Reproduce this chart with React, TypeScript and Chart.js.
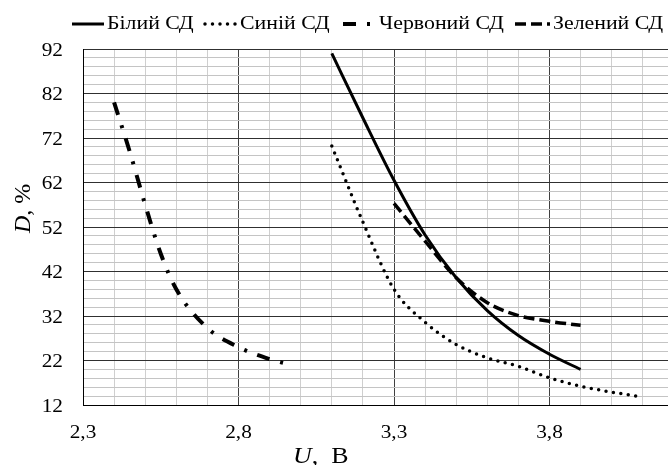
import React, { useEffect, useRef } from 'react';
import { Chart, registerables } from 'chart.js';

Chart.register(...registerables);

// ---- data ----
const whiteU = [3.1, 3.2, 3.3, 3.4, 3.5, 3.6, 3.7, 3.8, 3.9];
const whiteD = [91, 76.5, 62.5, 50.2, 40.6, 33.2, 27.6, 23.4, 20];

const blueU = [3.1, 3.2, 3.3, 3.4, 3.5, 3.6, 3.7, 3.8, 3.9, 4.0, 4.1];
const blueD = [70.2, 53.1, 38, 30.6, 25.6, 22.6, 20.7, 18.1, 16.2, 14.9, 13.8];

const redU = [2.4, 2.45, 2.5, 2.55, 2.6, 2.7, 2.8, 2.9, 2.97];
const redD = [80, 69, 57, 46, 38, 29.3, 25, 22.3, 21];

const greenU = [3.3, 3.4, 3.5, 3.6, 3.7, 3.8, 3.9];
const greenD = [57.3, 48.8, 40.6, 35, 32.1, 30.8, 29.9];

const seriesLabels = ['Білий СД', 'Синій СД', 'Червоний СД', 'Зелений СД'];

const xMajorTicks = [2.3, 2.8, 3.3, 3.8];
const xMinorTicks = [2.3, 2.4, 2.5, 2.6, 2.7, 2.8, 2.9, 3.0, 3.1, 3.2, 3.3, 3.4, 3.5, 3.6, 3.7, 3.8, 3.9, 4.0, 4.1];
const yMajorTicks = [12, 22, 32, 42, 52, 62, 72, 82, 92];
const yMinorTicks = [12, 14, 16, 18, 20, 22, 24, 26, 28, 30, 32, 34, 36, 38, 40, 42, 44, 46, 48, 50, 52, 54, 56, 58, 60, 62, 64, 66, 68, 70, 72, 74, 76, 78, 80, 82, 84, 86, 88, 90, 92];

const xTitleItalic = 'U';
const xTitleRest = ',  В';
const yTitleItalic = 'D';
const yTitleRest = ', %';

const X_MIN = 2.3;
const X_MAX = 4.181;
const Y_MIN = 12;
const Y_MAX = 92;

const SERIF = '"Liberation Serif", "Times New Roman", serif';
const STRETCH = 1.12;

const legendSampleX = [72, 205, 343, 515];
const legendSampleLen = [32, 33, 29, 35];
const legendTextX = [107, 240, 379, 553];

const pts = (xs: number[], ys: number[]) => xs.map((x, i) => ({ x, y: ys[i] }));
const near = (arr: number[], v: number) => arr.some((t) => Math.abs(t - v) < 1e-6);

function stretchedText(ctx: CanvasRenderingContext2D, text: string, x: number, y: number, align: CanvasTextAlign, sx: number) {
  ctx.save();
  ctx.translate(x, y);
  ctx.scale(sx, 1);
  ctx.textAlign = align;
  ctx.fillText(text, 0, 0);
  ctx.restore();
}

const overlay = {
  id: 'overlay',
  afterDraw(chart: any) {
    const ctx: CanvasRenderingContext2D = chart.ctx;
    ctx.save();
    ctx.fillStyle = '#000';
    ctx.textBaseline = 'alphabetic';

    // tick labels
    ctx.font = `19px ${SERIF}`;
    const xs = chart.scales.x;
    const ys = chart.scales.y;
    xMajorTicks.forEach((v) => {
      stretchedText(ctx, v.toFixed(1).replace('.', ','), xs.getPixelForValue(v), 438, 'center', STRETCH);
    });
    yMajorTicks.forEach((v) => {
      stretchedText(ctx, String(v), 63, ys.getPixelForValue(v) + 6.5, 'right', STRETCH);
    });

    // legend
    ctx.font = `19.5px ${SERIF}`;
    const ly = 24;
    chart.data.datasets.forEach((ds: any, i: number) => {
      const x = legendSampleX[i];
      ctx.save();
      ctx.strokeStyle = '#000';
      ctx.lineWidth = ds.borderWidth;
      ctx.lineCap = ds.borderCapStyle || 'butt';
      ctx.setLineDash(ds.borderDash || []);
      ctx.beginPath();
      ctx.moveTo(x, ly);
      ctx.lineTo(x + legendSampleLen[i], ly);
      ctx.stroke();
      ctx.restore();
      stretchedText(ctx, ds.label, legendTextX[i], 29, 'left', STRETCH);
    });

    // x title
    ctx.font = `italic 24px ${SERIF}`;
    const xt = 293;
    stretchedText(ctx, xTitleItalic, xt, 463, 'left', 1.08);
    const w1 = ctx.measureText(xTitleItalic).width * 1.08;
    ctx.font = `24px ${SERIF}`;
    stretchedText(ctx, xTitleRest, xt + w1, 463, 'left', 1.08);

    // y title
    ctx.save();
    ctx.translate(30, 233);
    ctx.rotate(-Math.PI / 2);
    ctx.textAlign = 'left';
    ctx.font = `italic 24px ${SERIF}`;
    ctx.fillText(yTitleItalic, 0, 0);
    const w2 = ctx.measureText(yTitleItalic).width;
    ctx.font = `24px ${SERIF}`;
    ctx.fillText(yTitleRest, w2, 0);
    ctx.restore();

    ctx.restore();
  },
};

export default function App() {
  const ref = useRef<HTMLCanvasElement | null>(null);

  useEffect(() => {
    document.body.style.margin = '0';
    const canvas = ref.current;
    if (!canvas) return;
    const common = {
      borderColor: '#000',
      backgroundColor: '#000',
      pointRadius: 0,
      pointHoverRadius: 0,
      fill: false,
      cubicInterpolationMode: 'monotone' as const,
      borderJoinStyle: 'round' as const,
    };
    const chart = new Chart(canvas, {
      type: 'line',
      data: {
        datasets: [
          { ...common, label: seriesLabels[0], data: pts(whiteU, whiteD), borderWidth: 3, borderCapStyle: 'butt' },
          { ...common, label: seriesLabels[1], data: pts(blueU, blueD), borderWidth: 3.5, borderDash: [0, 7.5], borderCapStyle: 'round' },
          { ...common, label: seriesLabels[2], data: pts(redU, redD), borderWidth: 4, borderDash: [13, 11, 3, 11], borderCapStyle: 'butt' },
          { ...common, label: seriesLabels[3], data: pts(greenU, greenD), borderWidth: 3.5, borderDash: [11, 5], borderCapStyle: 'butt' },
        ] as any,
      },
      options: {
        animation: false,
        responsive: false,
        devicePixelRatio: 1,
        layout: { padding: { top: 49, left: 0, right: 0, bottom: 0 } },
        plugins: {
          legend: { display: false },
          tooltip: { enabled: false },
        },
        scales: {
          x: {
            type: 'linear',
            min: X_MIN,
            max: X_MAX,
            afterBuildTicks: (scale: any) => {
              scale.ticks = xMinorTicks.map((v) => ({ value: v }));
            },
            afterFit: (scale: any) => {
              scale.height = 60;
            },
            ticks: { display: false, autoSkip: false },
            grid: {
              drawTicks: false,
              color: (c: any) => (c.tick && near(xMajorTicks, c.tick.value) ? '#404040' : '#cfcfcf'),
              lineWidth: 1,
            },
            border: { display: true, color: '#000', width: 1 },
          },
          y: {
            type: 'linear',
            min: Y_MIN,
            max: Y_MAX,
            afterBuildTicks: (scale: any) => {
              scale.ticks = yMinorTicks.map((v) => ({ value: v }));
            },
            afterFit: (scale: any) => {
              scale.width = 83;
            },
            ticks: { display: false, autoSkip: false },
            grid: {
              drawTicks: false,
              color: (c: any) => (c.tick && near(yMajorTicks, c.tick.value) ? '#303030' : '#c4c4c4'),
              lineWidth: 1,
            },
            border: { display: true, color: '#000', width: 1 },
          },
        },
      } as any,
      plugins: [overlay],
    });
    return () => chart.destroy();
  }, []);

  return (
    <div style={{ width: 668, height: 465, background: '#fff' }}>
      <canvas ref={ref} width={668} height={465} style={{ display: 'block' }} />
    </div>
  );
}
